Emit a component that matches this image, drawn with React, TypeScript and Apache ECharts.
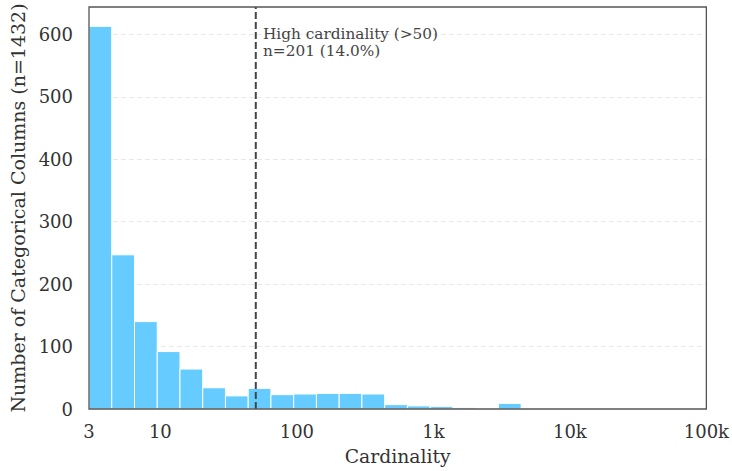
import React, { useEffect, useRef } from "react";
import * as echarts from "echarts";

const binEdges = [
  3, 4.403, 6.462, 9.483, 13.92, 20.43, 29.98, 44.0, 64.57, 94.77, 139.1, 204.1,
  299.6, 439.7, 645.3, 947.0, 1390, 2040, 2994, 4394, 6448, 9463, 13888, 20382,
];
const binCounts = [
  613, 247, 140, 92, 64, 34, 21, 33, 23, 24, 25, 25, 24, 7, 5, 4, 2, 0, 9, 1, 0, 1, 1,
];
const threshold = 50;
const xTickLabels: Record<string, string> = {
  "3": "3",
  "10": "10",
  "100": "100",
  "1000": "1k",
  "10000": "10k",
  "100000": "100k",
};
const annotationLines = ["High cardinality (>50)", "n=201 (14.0%)"];

const FONT = "DejaVu Serif";
const Y_MAX = 644;

export default function App() {
  const ref = useRef<HTMLDivElement>(null);
  useEffect(() => {
    if (!ref.current) return;
    const chart = echarts.init(ref.current, undefined, { renderer: "svg" });
    const data = binCounts.map((c, i) => [binEdges[i], binEdges[i + 1], c]);
    chart.setOption({
      animation: false,
      backgroundColor: "#ffffff",
      grid: {
        left: 89,
        right: 24,
        top: 7,
        bottom: 60,
        show: true,
        borderColor: "#555555",
        borderWidth: 1.3,
        backgroundColor: "transparent",
        z: 10,
      },
      xAxis: {
        type: "log",
        logBase: 10,
        min: 3,
        max: 100000,
        name: "Cardinality",
        nameLocation: "middle",
        nameGap: 38,
        nameTextStyle: { fontFamily: FONT, fontSize: 18.8, color: "#333" },
        axisLine: { show: false },
        axisTick: { show: false },
        splitLine: { show: false },
        minorTick: { show: false },
        axisLabel: {
          fontFamily: FONT,
          fontSize: 18,
          color: "#333",
          margin: 13,
          formatter: (v: number) => {
            const k = String(Math.round(v));
            return xTickLabels[k] ?? "";
          },
        },
      },
      yAxis: {
        type: "value",
        min: 0,
        max: Y_MAX,
        interval: 100,
        name: "Number of Categorical Columns (n=1432)",
        nameLocation: "middle",
        nameGap: 53,
        nameTextStyle: { fontFamily: FONT, fontSize: 19, color: "#333" },
        axisLine: { show: false },
        axisTick: { show: false },
        axisLabel: {
          fontFamily: FONT,
          fontSize: 18,
          color: "#333",
          margin: 16,
          padding: [7, 0, 0, 0],
          showMaxLabel: false,
          formatter: (v: number) => (v % 100 === 0 ? String(v) : ""),
        },
        splitLine: {
          show: true,
          showMinLine: false,
          showMaxLine: false,
          lineStyle: { color: "#e3e3e3", type: [5, 3], width: 0.8 },
        },
      },
      series: [
        {
          type: "custom",
          data,
          encode: { x: [0, 1], y: 2 },
          renderItem: (params: any, api: any) => {
            const x0 = api.value(0);
            const x1 = api.value(1);
            const y = api.value(2);
            const p0 = api.coord([x0, y]);
            const p1 = api.coord([x1, 0]);
            return {
              type: "rect",
              shape: {
                x: p0[0],
                y: p0[1],
                width: p1[0] - p0[0],
                height: p1[1] - p0[1],
              },
              style: { fill: "#66ccff", stroke: "#ffffff", lineWidth: 1 },
            };
          },
          z: 2,
        },
        {
          type: "line",
          data: [
            [threshold, 0],
            [threshold, Y_MAX],
          ],
          symbol: "none",
          lineStyle: { color: "#444444", width: 2, type: [7, 3] },
          z: 3,
        },
      ],
      graphic: annotationLines.map((line, i) => ({
        type: "text",
        left: 263,
        top: 26 + i * 16.5,
        style: {
          text: line,
          fontFamily: FONT,
          fontSize: 15.3,
          lineHeight: 16,
          fill: "#444444",
        },
        z: 10,
      })),
    });
    return () => chart.dispose();
  }, []);
  return (
    <div
      ref={ref}
      style={{ position: "fixed", left: 0, top: 0, width: 732, height: 471 }}
    />
  );
}
